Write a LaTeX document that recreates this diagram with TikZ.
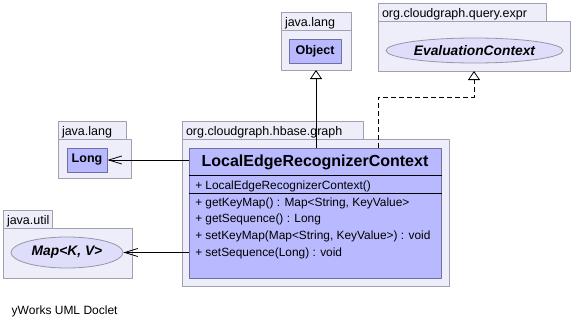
\documentclass[tikz,border=0pt]{standalone}
\usepackage{fontspec}
\setmainfont{Liberation Sans}
\usetikzlibrary{arrows.meta,shapes.geometric}
\definecolor{pkgfill}{RGB}{238,238,250}
\definecolor{pkgline}{RGB}{160,160,176}
\definecolor{clsfill}{RGB}{185,185,255}
\definecolor{clsline}{RGB}{112,112,160}
\definecolor{iffill}{RGB}{222,222,250}
\definecolor{ifline}{RGB}{150,150,166}
\newcommand{\mbr}[1]{\makebox[10pt][l]{+}#1}
\begin{document}
\begin{tikzpicture}[x=1pt, y=-1pt, line width=0.8pt, line join=round,
		pkg/.style={draw=pkgline, fill=pkgfill, anchor=north west, inner sep=0pt, outer sep=0pt},
		tab/.style={pkg, font=\fontsize{12.5}{14}\selectfont, align=left, inner xsep=4pt, text height=10pt, text depth=0pt, minimum height=18pt},
		cls/.style={draw=clsline, fill=clsfill, font=\fontsize{12.5}{14}\selectfont\bfseries, minimum height=24pt, inner sep=2pt},
		iface/.style={ellipse, draw=ifline, fill=iffill, font=\fontsize{13.8}{16}\selectfont\bfseries\itshape, inner sep=0pt},
		member/.style={anchor=base west, inner xsep=2pt, font=\fontsize{11.9}{14}\selectfont},
		inherit/.style={-{Triangle[open, length=9pt, width=12pt]}},
		realize/.style={inherit, dash pattern=on 5pt off 3pt},
		navig/.style={-{Straight Barb[length=13pt, width=8pt]}}]
	\useasboundingbox (0,0) rectangle (573,324);
	\node[tab, text width=62] (objTab) at (281,12) {java.lang};
	\node[pkg, minimum width=70, minimum height=40] (objPkg) at (objTab.south west) {};
	\node[cls, minimum width=52] (objCls) at (315,51) {Object};
	\node[tab, text width=160] (exprTab) at (378,3) {org.cloudgraph.query.expr};
	\node[pkg, minimum width=192, minimum height=50] (exprPkg) at (exprTab.south west) {};
	\node[iface, minimum width=177, minimum height=25] (evalCtx) at (474.5,50.5) {EvaluationContext};
	\node[tab, text width=60] (longTab) at (58,121) {java.lang};
	\node[pkg, minimum width=73, minimum height=39] (longPkg) at (longTab.south west) {};
	\node[cls, minimum width=40] (longCls) at (87,160) {Long};
	\node[tab, text width=41] (utilTab) at (3,210) {java.util};
	\node[pkg, minimum width=129, minimum height=50] (utilPkg) at (utilTab.south west) {};
	\node[iface, minimum width=112, minimum height=31] (mapIf) at (67,252.5) {Map<K, V>};
	\node[tab, text width=173] (graphTab) at (182,121) {org.cloudgraph.hbase.graph};
	\node[pkg, minimum width=267, minimum height=147] (graphPkg) at (graphTab.south west) {};
	\node[cls, anchor=north west, minimum width=252, minimum height=130] (ctx) at (189,148) {};
	\node[font=\fontsize{16}{19}\selectfont\bfseries] (ctxName) at (315,162) {LocalEdgeRecognizerContext};
	\draw (ctx.west |- 0,175) -- (ctx.east |- 0,175);
	\node[member] (ctor) at (193,189) {\mbr{LocalEdgeRecognizerContext()}};
	\draw (ctx.west |- 0,193) -- (ctx.east |- 0,193);
	\foreach \mem [count=\i] in {{getKeyMap() : Map<String, KeyValue>}, {getSequence() : Long}, {setKeyMap(Map<String, KeyValue>) : void}, {setSequence(Long) : void}}
		\node[member] (mem\i) at (193,{189.3+16.7*\i}) {\mbr{\mem}};
	\draw[inherit] (ctx.north -| objPkg.south) -- (objPkg.south);
	\draw[realize] (ctx.north -| exprPkg.west) -- ++(0,-51) -| (exprPkg.south);
	\draw[navig] (ctx.west |- longCls.east) -- (longCls.east);
	\draw[navig] (ctx.west |- mapIf.east) -- (mapIf.east);
	\node[anchor=base west, font=\fontsize{12}{14}\selectfont] (doclet) at (8,314) {yWorks UML Doclet};
\end{tikzpicture}
\end{document}
